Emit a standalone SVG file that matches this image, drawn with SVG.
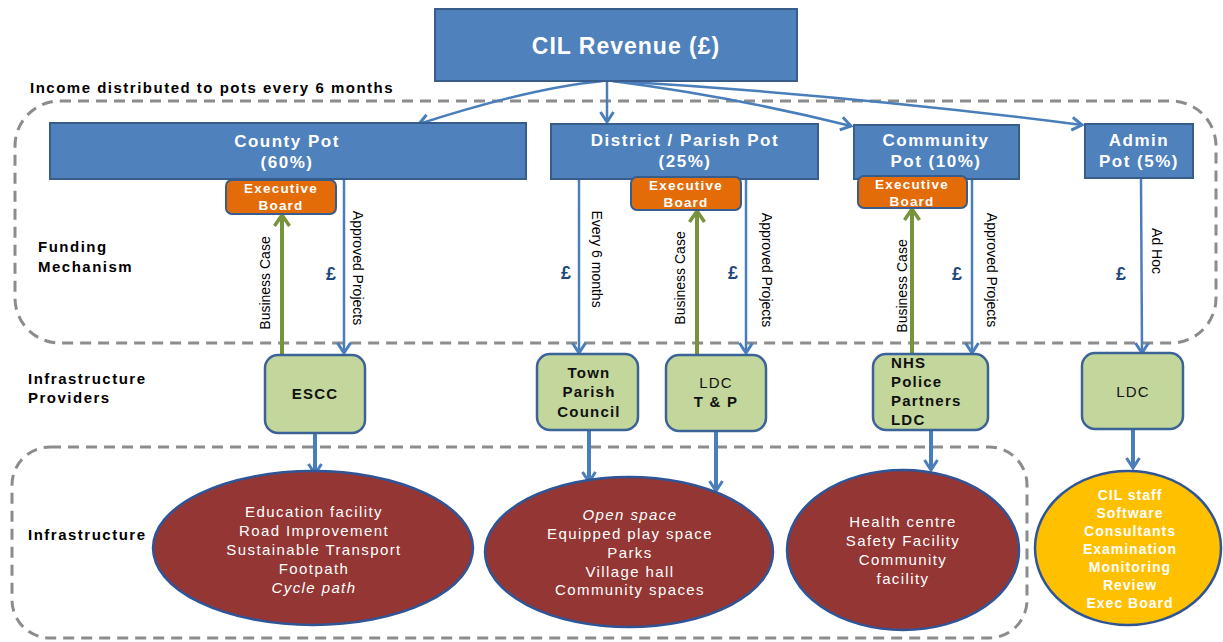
<svg xmlns="http://www.w3.org/2000/svg" width="1223" height="642" viewBox="0 0 1223 642">
  <defs>
    <style>
      .lbl { font-family: "Liberation Sans", Arial, sans-serif; }
      .pot { fill: #4f81bd; stroke: #385d8a; stroke-width: 2; }
      .potText { font-family: "Liberation Sans", Arial, sans-serif; font-size: 17px; font-weight: bold; fill: #ffffff; text-anchor: middle; letter-spacing: 1.5px; }
      .exec { fill: #e36c09; stroke: #385d8a; stroke-width: 2; }
      .execText { font-family: "Liberation Sans", Arial, sans-serif; font-size: 13.5px; font-weight: bold; fill: #ffffff; text-anchor: middle; letter-spacing: 1.2px; }
      .prov { fill: #c3d69b; stroke: #3b6397; stroke-width: 2.5; }
      .provText { font-family: "Liberation Sans", Arial, sans-serif; font-size: 15px; font-weight: bold; fill: #111111; text-anchor: middle; letter-spacing: 1.2px; }
      .provLeft { font-family: "Liberation Sans", Arial, sans-serif; font-size: 15px; font-weight: bold; fill: #111111; text-anchor: start; letter-spacing: 1.2px; }
      .provTextReg { font-family: "Liberation Sans", Arial, sans-serif; font-size: 15px; fill: #111111; text-anchor: middle; letter-spacing: 1.2px; }
      .infra { fill: #943634; stroke: #2f5597; stroke-width: 2.5; }
      .infraText { font-family: "Liberation Sans", Arial, sans-serif; font-size: 15px; fill: #ffffff; text-anchor: middle; letter-spacing: 1.4px; }
      .admin { fill: #ffc000; stroke: #2f5597; stroke-width: 2.5; }
      .adminText { font-family: "Liberation Sans", Arial, sans-serif; font-size: 14px; font-weight: bold; fill: #ffffff; text-anchor: middle; letter-spacing: 1px; }
      .side { font-family: "Liberation Sans", Arial, sans-serif; font-size: 15px; font-weight: bold; fill: #000000; letter-spacing: 1.5px; }
      .vert { font-family: "Liberation Sans", Arial, sans-serif; font-size: 14px; fill: #000000; text-anchor: middle; }
      .pound { font-family: "Liberation Sans", Arial, sans-serif; font-size: 18px; font-weight: bold; fill: #1f497d; text-anchor: middle; }
      .dash { fill: none; stroke: #8c8c8c; stroke-width: 3; stroke-dasharray: 11 7; }
      .flow { fill: none; stroke: #4a7ebb; stroke-width: 2.5; marker-end: url(#ah-blue); }
      .flowThick { fill: none; stroke: #4a7ebb; stroke-width: 4; marker-end: url(#ah-blue); }
      .bcase { fill: none; stroke: #77933c; stroke-width: 4; marker-end: url(#ah-green); }
    </style>
    <marker id="ah-blue" viewBox="0 0 16 16" refX="13" refY="8" markerWidth="16" markerHeight="16" markerUnits="userSpaceOnUse" orient="auto">
      <path d="M3,1.5 L13,8 L3,14.5" fill="none" stroke="#4a7ebb" stroke-width="3" stroke-linejoin="miter"/>
    </marker>
    <marker id="ah-green" viewBox="0 0 18 18" refX="15" refY="9" markerWidth="18" markerHeight="18" markerUnits="userSpaceOnUse" orient="auto">
      <path d="M4,1.5 L15,9 L4,16.5" fill="none" stroke="#77933c" stroke-width="3.5" stroke-linejoin="miter"/>
    </marker>
  </defs>

  <rect width="1223" height="642" fill="#ffffff"/>

  <!-- grouping frames -->
  <g id="frames">
    <rect class="dash" x="15" y="101" width="1201" height="242" rx="45" ry="45"/>
    <rect class="dash" x="12" y="447" width="1015" height="191" rx="38" ry="38"/>
  </g>

  <!-- row labels -->
  <g id="row-labels">
    <text class="side" x="30" y="93" font-size="14.5px">Income distributed to pots every 6 months</text>
    <text class="side" x="38" y="252">Funding</text>
    <text class="side" x="38" y="272">Mechanism</text>
    <text class="side" x="28" y="384">Infrastructure</text>
    <text class="side" x="28" y="403">Providers</text>
    <text class="side" x="28" y="540">Infrastructure</text>
  </g>

  <!-- connectors -->
  <g id="connectors">
    <!-- revenue split into pots -->
    <path class="flow" d="M603,81 Q530,88 419,124"/>
    <path class="flow" d="M607,81 L607,122"/>
    <path class="flow" d="M612,81 Q730,96 851,126"/>
    <path class="flow" d="M614,81 Q850,95 1082,125"/>

    <!-- funding mechanism -->
    <path class="bcase" d="M282,355 L282,215"/>
    <path class="flow" d="M344,179 L344,353"/>
    <path class="flow" d="M579,179 L579,353"/>
    <path class="bcase" d="M697,355 L697,211"/>
    <path class="flow" d="M746,179 L746,353"/>
    <path class="bcase" d="M912,354 L912,209"/>
    <path class="flow" d="M972,179 L972,353"/>
    <path class="flow" d="M1141,179 L1142,353"/>

    <!-- providers to infrastructure -->
    <path class="flowThick" d="M315,433 L315,474"/>
    <path class="flowThick" d="M589,430 L589,482"/>
    <path class="flowThick" d="M716,431 L716,491"/>
    <path class="flowThick" d="M931,430 L931,470"/>
    <path class="flowThick" d="M1133,429 L1133,468"/>

    <!-- connector labels -->
    <text class="vert" transform="translate(270,283) rotate(-90)">Business Case</text>
    <text class="vert" transform="translate(353,268) rotate(90)">Approved Projects</text>
    <text class="vert" transform="translate(592,259) rotate(90)">Every 6 months</text>
    <text class="vert" transform="translate(685,278) rotate(-90)">Business Case</text>
    <text class="vert" transform="translate(762,270) rotate(90)">Approved Projects</text>
    <text class="vert" transform="translate(907,286) rotate(-90)">Business Case</text>
    <text class="vert" transform="translate(987,270) rotate(90)">Approved Projects</text>
    <text class="vert" transform="translate(1152,251) rotate(90)">Ad Hoc</text>

    <text class="pound" x="331" y="280">£</text>
    <text class="pound" x="566" y="279">£</text>
    <text class="pound" x="733" y="279">£</text>
    <text class="pound" x="957" y="280">£</text>
    <text class="pound" x="1121" y="280">£</text>
  </g>

  <!-- revenue -->
  <g id="cil-revenue">
    <rect class="pot" x="435" y="9" width="362" height="72"/>
    <text x="626" y="54" class="lbl" font-size="23px" font-weight="bold" fill="#ffffff" text-anchor="middle" letter-spacing="1">CIL Revenue (£)</text>
  </g>

  <!-- pots -->
  <g id="county-pot">
    <rect class="pot" x="50" y="123" width="476" height="56"/>
    <text class="potText" x="287" y="147">County Pot</text>
    <text class="potText" x="287" y="168">(60%)</text>
  </g>
  <g id="district-pot">
    <rect class="pot" x="551" y="124" width="267" height="55"/>
    <text class="potText" x="685" y="146">District / Parish Pot</text>
    <text class="potText" x="685" y="167">(25%)</text>
  </g>
  <g id="community-pot">
    <rect class="pot" x="854" y="125" width="165" height="54"/>
    <text class="potText" x="936" y="146">Community</text>
    <text class="potText" x="936" y="167">Pot (10%)</text>
  </g>
  <g id="admin-pot">
    <rect class="pot" x="1085" y="124" width="108" height="54"/>
    <text class="potText" x="1139" y="146">Admin</text>
    <text class="potText" x="1139" y="167">Pot (5%)</text>
  </g>

  <!-- executive boards -->
  <g id="exec-county">
    <rect class="exec" x="226" y="180" width="110" height="34" rx="6"/>
    <text class="execText" x="281" y="193">Executive</text>
    <text class="execText" x="281" y="210">Board</text>
  </g>
  <g id="exec-district">
    <rect class="exec" x="631" y="177" width="110" height="33" rx="6"/>
    <text class="execText" x="686" y="190">Executive</text>
    <text class="execText" x="686" y="207">Board</text>
  </g>
  <g id="exec-community">
    <rect class="exec" x="858" y="176" width="109" height="32" rx="6"/>
    <text class="execText" x="912" y="189">Executive</text>
    <text class="execText" x="912" y="206">Board</text>
  </g>

  <!-- infrastructure providers -->
  <g id="prov-escc">
    <rect class="prov" x="265" y="355" width="100" height="78" rx="13"/>
    <text class="provText" x="315" y="399">ESCC</text>
  </g>
  <g id="prov-town">
    <rect class="prov" x="537" y="354" width="101" height="76" rx="13"/>
    <text class="provText" x="589" y="378">Town</text>
    <text class="provText" x="589" y="397">Parish</text>
    <text class="provText" x="589" y="417">Council</text>
  </g>
  <g id="prov-ldc-tp">
    <rect class="prov" x="666" y="355" width="100" height="76" rx="13"/>
    <text class="provTextReg" x="716" y="388">LDC</text>
    <text class="provText" x="716" y="407">T &amp; P</text>
  </g>
  <g id="prov-partners">
    <rect class="prov" x="873" y="354" width="115" height="76" rx="13"/>
    <text class="provLeft" x="891" y="368">NHS</text>
    <text class="provLeft" x="891" y="387">Police</text>
    <text class="provLeft" x="891" y="406">Partners</text>
    <text class="provLeft" x="891" y="425">LDC</text>
  </g>
  <g id="prov-ldc-admin">
    <rect class="prov" x="1082" y="353" width="101" height="76" rx="13"/>
    <text class="provTextReg" x="1133" y="397">LDC</text>
  </g>

  <!-- infrastructure outcomes -->
  <g id="infra-county">
    <ellipse class="infra" cx="313" cy="548" rx="160" ry="77"/>
    <text class="infraText" x="314" y="517">Education facility</text>
    <text class="infraText" x="314" y="536">Road Improvement</text>
    <text class="infraText" x="314" y="555">Sustainable Transport</text>
    <text class="infraText" x="314" y="574">Footpath</text>
    <text class="infraText" x="314" y="593" font-style="italic">Cycle path</text>
  </g>
  <g id="infra-district">
    <ellipse class="infra" cx="629" cy="552" rx="144" ry="75"/>
    <text class="infraText" x="630" y="520" font-style="italic">Open space</text>
    <text class="infraText" x="630" y="539">Equipped play space</text>
    <text class="infraText" x="630" y="558">Parks</text>
    <text class="infraText" x="630" y="577">Village hall</text>
    <text class="infraText" x="630" y="595">Community spaces</text>
  </g>
  <g id="infra-community">
    <ellipse class="infra" cx="903" cy="550" rx="116" ry="80"/>
    <text class="infraText" x="903" y="527">Health centre</text>
    <text class="infraText" x="903" y="546">Safety Facility</text>
    <text class="infraText" x="903" y="565">Community</text>
    <text class="infraText" x="903" y="584">facility</text>
  </g>
  <g id="infra-admin">
    <ellipse class="admin" cx="1128" cy="548" rx="93" ry="77"/>
    <text class="adminText" x="1130" y="500">CIL staff</text>
    <text class="adminText" x="1130" y="518">Software</text>
    <text class="adminText" x="1130" y="536">Consultants</text>
    <text class="adminText" x="1130" y="554">Examination</text>
    <text class="adminText" x="1130" y="572">Monitoring</text>
    <text class="adminText" x="1130" y="590">Review</text>
    <text class="adminText" x="1130" y="608">Exec Board</text>
  </g>
</svg>
